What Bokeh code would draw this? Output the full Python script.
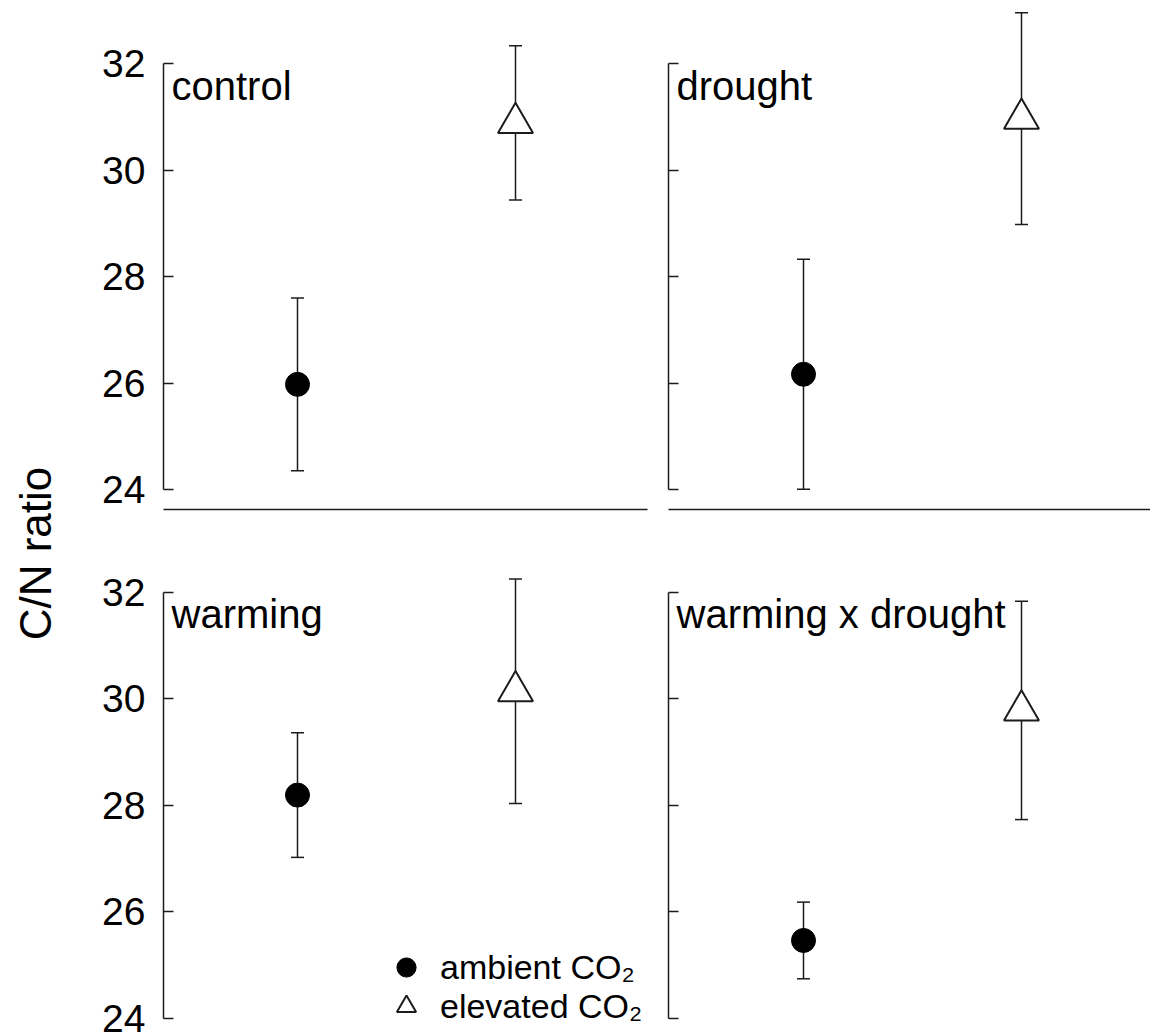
from math import pi

from bokeh.embed import file_html
from bokeh.layouts import column, row
from bokeh.models import (ColumnDataSource, CustomLabelingPolicy, FixedTicker,
                          Label, Legend, LegendItem, Range1d, TeeHead, Whisker)
from bokeh.plotting import figure
from bokeh.resources import INLINE

# ---- data: C/N ratio (mean +/- error) per climate treatment and CO2 level ----
treatments = ["control", "drought", "warming", "warming x drought"]
co2_levels = ["ambient CO\u2082", "elevated CO\u2082"]
co2_pos = [1, 2]
ambient_mean = [25.98, 26.17, 28.19, 25.46]
ambient_err = [1.62, 2.16, 1.17, 0.72]
elevated_mean = [30.89, 30.97, 30.14, 29.78]
elevated_err = [1.45, 1.99, 2.11, 2.05]
y_ticks = [24, 26, 28, 30, 32]
y_title = "C/N ratio"

FONT = "Liberation Sans"
INK = "#1c1c1c"
PX_PER_Y = 53.25      # vertical pixels per C/N unit
PX_PER_X = 218.0      # horizontal pixels between the two CO2 positions


def make_panel(idx, left, top):
    if left:
        width, mb_left, mb_right, lead = 588, 103, 1, 134
    else:
        width, mb_left, mb_right, lead = 502, 20, 0, 135
    frame_w = width - mb_left - mb_right
    x0 = co2_pos[0] - lead / PX_PER_X
    x1 = x0 + frame_w / PX_PER_X

    if top:
        height, mb_bottom, above, below = 530, 21, 63.3, 19.7
    else:
        height, mb_bottom, above, below = 503, 0, 61.7, 15.3
    y0 = min(y_ticks) - below / PX_PER_Y
    y1 = max(y_ticks) + above / PX_PER_Y

    p = figure(width=width, height=height, output_backend="svg",
               toolbar_location=None, x_range=Range1d(x0, x1),
               y_range=Range1d(y0, y1),
               x_axis_location="below" if top else None,
               y_axis_location="left",
               min_border_left=mb_left, min_border_right=mb_right,
               min_border_top=0, min_border_bottom=mb_bottom)
    p.outline_line_color = None
    p.grid.visible = False
    p.background_fill_color = "white"
    p.border_fill_color = "white"

    ax = p.yaxis[0]
    ax.ticker = FixedTicker(ticks=y_ticks)
    ax.bounds = (min(y_ticks), max(y_ticks))
    ax.major_tick_in = 10
    ax.major_tick_out = 0
    ax.minor_tick_line_color = None
    ax.axis_line_color = INK
    ax.axis_line_width = 1.5
    ax.major_tick_line_color = INK
    ax.major_tick_line_width = 1.5
    if left:
        ax.major_label_text_font = FONT
        ax.major_label_text_font_size = "39px"
        ax.major_label_text_color = "black"
        ax.major_label_standoff = 18
    else:
        # right-hand panels share the scale: ticks only, no numbers
        ax.major_label_policy = CustomLabelingPolicy(code="return []")
        ax.major_label_text_font_size = "8px"
        ax.major_label_standoff = 0

    if top:
        xa = p.xaxis[0]
        xa.ticker = FixedTicker(ticks=[])
        xa.major_tick_line_color = None
        xa.minor_tick_line_color = None
        xa.major_label_standoff = 0
        xa.axis_line_color = INK
        xa.axis_line_width = 1.5

    amb = ColumnDataSource(dict(
        x=[co2_pos[0]], y=[ambient_mean[idx]],
        upper=[ambient_mean[idx] + ambient_err[idx]],
        lower=[ambient_mean[idx] - ambient_err[idx]]))
    elev = ColumnDataSource(dict(
        x=[co2_pos[1]], y=[elevated_mean[idx]],
        upper=[elevated_mean[idx] + elevated_err[idx]],
        lower=[elevated_mean[idx] - elevated_err[idx]]))

    for src in (amb, elev):
        w = Whisker(source=src, base="x", upper="upper", lower="lower",
                    dimension="height", line_color=INK, line_width=1.5,
                    level="underlay",
                    upper_head=TeeHead(size=13, line_color=INK, line_width=1.5),
                    lower_head=TeeHead(size=13, line_color=INK, line_width=1.5))
        p.add_layout(w)

    r_amb = p.scatter("x", "y", source=amb, marker="circle", size=24,
                      fill_color="black", line_color="black", line_width=1)
    r_elev = p.scatter("x", "y", source=elev, marker="triangle", size=35,
                       fill_color="white", line_color=INK, line_width=2)

    p.add_layout(Label(x=x0, y=max(y_ticks), x_offset=8, text=treatments[idx],
                       text_font=FONT, text_font_size="40px",
                       text_color="black", text_baseline="top",
                       text_align="left"))
    return p, r_amb, r_elev


p_tl, _, _ = make_panel(0, left=True, top=True)
p_tr, _, _ = make_panel(1, left=False, top=True)
p_bl, key_amb, key_elev = make_panel(2, left=True, top=False)
p_br, _, _ = make_panel(3, left=False, top=False)

# one single-entry legend per CO2 level so the rows can sit close together
for label, rend, bottom in ((co2_levels[0], key_amb, 42),
                            (co2_levels[1], key_elev, 3)):
    leg = Legend(items=[LegendItem(label=label, renderers=[rend])],
                 location=(219, bottom), orientation="vertical",
                 glyph_width=48, glyph_height=48, spacing=0,
                 padding=0, margin=0, label_standoff=10,
                 label_text_font=FONT, label_text_font_size="34px",
                 label_text_color="black",
                 border_line_color=None, background_fill_alpha=0)
    p_bl.add_layout(leg)

# shared y-axis title on its own narrow canvas
ylab = figure(width=60, height=1033, output_backend="svg", toolbar_location=None,
              x_range=Range1d(0, 60), y_range=Range1d(0, 1033),
              x_axis_location=None, y_axis_location=None,
              min_border=0)
ylab.outline_line_color = None
ylab.grid.visible = False
ylab.add_layout(Label(x=35, y=480, text=y_title, angle=pi / 2,
                      text_font=FONT, text_font_size="44px",
                      text_color="black", text_align="center",
                      text_baseline="middle"))

layout = row(ylab, column(row(p_tl, p_tr), row(p_bl, p_br)))

open("out.html", "w").write(file_html(layout, INLINE))
